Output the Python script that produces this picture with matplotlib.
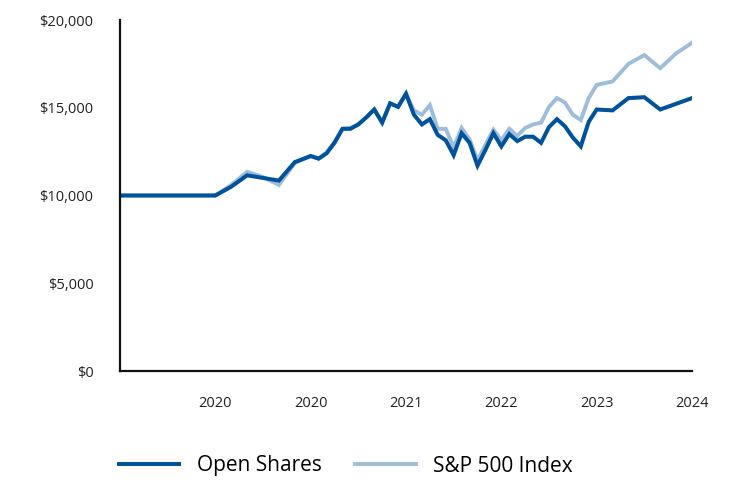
import matplotlib.pyplot as plt

# months since start of the chart
months = [0, 12, 14, 16, 18, 20, 22, 24, 25, 26, 27, 28, 29, 30, 31, 32, 33, 34, 35, 36,
          37, 38, 39, 40, 41, 42, 43, 44, 45, 46, 47, 48, 49, 50, 51, 52, 53, 54, 55, 56,
          57, 58, 59, 60, 62, 64, 66, 68, 72]
months_sp = months[:-1] + [70, 72]

open_shares = [10000, 10000, 10500, 11150, 11000, 10850, 11900, 12250, 12100, 12400,
               13000, 13800, 13800, 14050, 14450, 14900, 14150, 15250, 15050, 15800,
               14600, 14050, 14350, 13450, 13150, 12300, 13550, 13000, 11700, 12600,
               13550, 12800, 13500, 13100, 13350, 13350, 13000, 13900, 14350, 13950,
               13300, 12800, 14200, 14900, 14850, 15550, 15600, 14900, 15550]

sp500 = [10000, 10000, 10600, 11350, 11050, 10600, 11850, 12250, 12100, 12450,
         13050, 13800, 13850, 14050, 14450, 14900, 14200, 15250, 15050, 15800,
         14850, 14600, 15150, 13800, 13800, 12750, 13850, 13200, 12000, 12900,
         13750, 13150, 13800, 13400, 13850, 14050, 14150, 15050, 15550, 15300,
         14600, 14300, 15550, 16300, 16500, 17500, 18000, 17250, 18100, 18700]

tick_pos = [12, 24, 36, 48, 60, 72]
tick_labels = ["2020", "2020", "2021", "2022", "2023", "2024"]
y_ticks = [0, 5000, 10000, 15000, 20000]

plt.rcParams['font.family'] = ['Open Sans', 'DejaVu Sans']

fig = plt.figure(figsize=(7.32, 4.8), dpi=100)
ax = fig.add_axes([120/732, 1-371/480, 572/732, 351/480])

ax.plot(months_sp, sp500, color="#9dbddb", lw=2.8, label="S&P 500 Index",
        solid_joinstyle="miter")
ax.plot(months, open_shares, color="#00529b", lw=2.9, label="Open Shares",
        solid_joinstyle="miter")

ax.set_xlim(0, 72)
ax.set_ylim(0, 20000)
ax.set_xticks(tick_pos)
ax.set_xticklabels(tick_labels)
ax.set_yticks(y_ticks)
ax.set_yticklabels([f"${v:,.0f}" for v in y_ticks])
ax.tick_params(axis="both", length=0, labelsize=10.5, colors="#222222")
ax.tick_params(axis="x", pad=18)
ax.tick_params(axis="y", pad=19)

for s in ["top", "right"]:
    ax.spines[s].set_visible(False)
for s in ["left", "bottom"]:
    ax.spines[s].set_linewidth(1.6)
    ax.spines[s].set_color("#111111")

h, l = ax.get_legend_handles_labels()
fig.legend([h[1], h[0]], [l[1], l[0]], loc="center left",
           bbox_to_anchor=(119/732, 1-466/480), ncol=2, frameon=False,
           fontsize=15, handlelength=2.9, handletextpad=0.85, columnspacing=1.6,
           borderpad=0, borderaxespad=0)

fig.savefig("out.png", dpi=100)
